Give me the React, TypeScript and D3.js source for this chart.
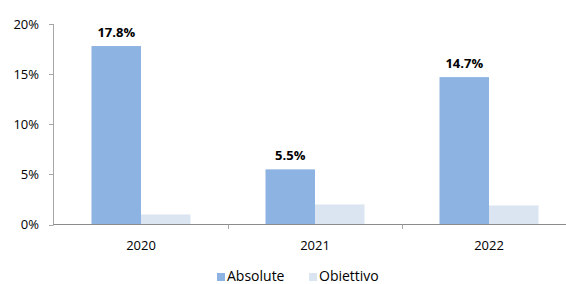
import React from "react";
import * as d3 from "d3";

const categories = ["2020", "2021", "2022"];
const absoluteValues = [17.8, 5.5, 14.7];
const objectiveValues = [1.0, 2.0, 1.9];
const seriesNames = ["Absolute", "Obiettivo"];
const yTicks = [0, 5, 10, 15, 20];

const W = 566;
const H = 284;
const colors = ["#8db3e2", "#dbe5f1"];
const font = "'Open Sans', 'Noto Sans', sans-serif";

export default function App() {
  const x = d3.scaleBand<string>().domain(categories).range([54, 576]).paddingInner(0).paddingOuter(0);
  const y = d3.scaleLinear().domain([0, 20]).range([224.5, 24]);
  const pairW = 99;
  const inner = d3.scaleBand<number>().domain([0, 1]).range([0, pairW]).padding(0);
  const series = [absoluteValues, objectiveValues];
  const legendX = [217, 309];
  return (
    <svg width={W} height={H} style={{ position: "absolute", left: 0, top: 0, background: "#fff" }} fontFamily={font}>
      {/* y axis */}
      <line x1={53.5} x2={53.5} y1={y(20)} y2={y(0)} stroke="#a6a6a6" strokeWidth={1} />
      {yTicks.map((t) => (
        <g key={t}>
          <line x1={49} x2={53.5} y1={Math.round(y(t)) + 0.5} y2={Math.round(y(t)) + 0.5} stroke="#a6a6a6" />
          <text x={39} y={y(t)} dy="0.35em" textAnchor="end" fontSize={13} fill="#000">
            {t}%
          </text>
        </g>
      ))}
      {/* bars */}
      {categories.map((c, i) => {
        const x0 = (x(c) as number) + x.bandwidth() / 2 - pairW / 2;
        return (
          <g key={c}>
            {series.map((s, j) => (
              <rect
                key={j}
                x={x0 + (inner(j) as number)}
                y={y(s[i])}
                width={inner.bandwidth()}
                height={y(0) - y(s[i])}
                fill={colors[j]}
              />
            ))}
            <text
              x={x0 + (inner(0) as number) + inner.bandwidth() / 2}
              y={y(absoluteValues[i]) - 9}
              textAnchor="middle"
              fontSize={13}
              fontWeight="bold"
              fill="#000"
            >
              {absoluteValues[i].toFixed(1)}%
            </text>
          </g>
        );
      })}
      {/* x axis */}
      <line x1={53} x2={566} y1={224.5} y2={224.5} stroke="#8c8c8c" strokeWidth={1.2} />
      {categories.slice(1).map((c) => (
        <line key={c} x1={Math.round(x(c) as number) + 0.5} x2={Math.round(x(c) as number) + 0.5} y1={224.5} y2={229} stroke="#a6a6a6" />
      ))}
      {categories.map((c) => (
        <text key={c} x={(x(c) as number) + x.bandwidth() / 2} y={250} textAnchor="middle" fontSize={13} fill="#000">
          {c}
        </text>
      ))}
      {/* legend */}
      {seriesNames.map((n, j) => (
        <g key={n}>
          <rect x={legendX[j]} y={273} width={8} height={8} fill={colors[j]} />
          <text x={legendX[j] + 10} y={280.5} fontSize={14} fill="#000">
            {n}
          </text>
        </g>
      ))}
    </svg>
  );
}
